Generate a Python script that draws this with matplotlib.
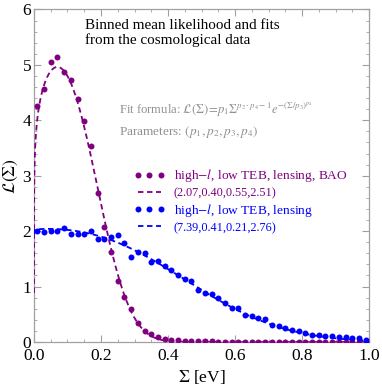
import numpy as np
import matplotlib
matplotlib.use('Agg')
import matplotlib.pyplot as plt
from matplotlib.ticker import MultipleLocator, FormatStrFormatter

plt.rcParams.update({'font.family': ['Liberation Serif', 'DejaVu Serif'],
                     'mathtext.fontset': 'stix'})

# binned mean likelihood (bin centres in eV)
sigma_bins = np.arange(0.01, 1.0, 0.02)
like_bao = [4.25, 4.56, 5.06, 5.15, 4.88, 4.72, 4.38, 3.98, 3.54, 2.69,
            2.08, 1.63, 1.10, 0.82, 0.59, 0.34, 0.19, 0.14, 0.09, 0.06,
            0.04, 0.03, 0.02, 0.01, 0.01, 0.01, 0.01, 0.0, 0.0, 0.0,
            0.0, 0.0, 0.0, 0.0, 0.0, 0.0, 0.0, 0.0, 0.0, 0.0,
            0.0, 0.0, 0.0, 0.0, 0.0, 0.0, 0.0, 0.0, 0.0, 0.0]
like_lens = [2.00, 1.99, 2.00, 2.01, 2.06, 1.94, 1.94, 1.95, 2.00, 1.85,
             1.86, 1.89, 1.93, 1.78, 1.54, 1.63, 1.60, 1.45, 1.47, 1.37,
             1.30, 1.21, 1.14, 1.10, 0.94, 0.89, 0.86, 0.79, 0.71, 0.62,
             0.62, 0.49, 0.47, 0.44, 0.41, 0.31, 0.28, 0.25, 0.21, 0.19,
             0.16, 0.13, 0.13, 0.10, 0.10, 0.09, 0.09, 0.07, 0.07, 0.04]

# fit parameters (p1, p2, p3, p4) as printed on the chart
params_bao_label = (2.07, 0.40, 0.55, 2.51)
params_lens_label = (7.39, 0.41, 0.21, 2.76)

PURPLE = '#800080'
BLUE = '#0000ff'


def fit(s, p1, p2, p3, p4):
    return p1 * s ** (p2 * p4 - 1) * np.exp(-(s / p3) ** p4)


s = np.concatenate([np.geomspace(1e-7, 0.01, 200), np.linspace(0.01, 1.0, 400)])

fig = plt.figure(figsize=(3.82, 3.88), dpi=100)
ax = fig.add_axes([0.089, 0.1186, 0.877, 0.857])

ax.plot(sigma_bins, like_bao, 'o', color=PURPLE, ms=4.3, mew=0, zorder=4,
        label=r'high$-l$, low TEB, lensing, BAO')
ax.plot(s, fit(s, *params_lens_label), '--', color=PURPLE, lw=1.3, dashes=(3, 2), zorder=3,
        label='(' + ','.join(f'{p:.2f}' for p in params_bao_label) + ')')
ax.plot(sigma_bins, like_lens, 'o', color=BLUE, ms=4.3, mew=0, zorder=4,
        label=r'high$-l$, low TEB, lensing')
ax.plot(s, fit(s, *params_bao_label), '--', color=BLUE, lw=1.3, dashes=(3, 2), zorder=3,
        label='(' + ','.join(f'{p:.2f}' for p in params_lens_label) + ')')

ax.set_xlim(0, 1.0)
ax.set_ylim(0, 6)
ax.xaxis.set_major_locator(MultipleLocator(0.2))
ax.xaxis.set_minor_locator(MultipleLocator(0.05))
ax.yaxis.set_major_locator(MultipleLocator(1))
ax.yaxis.set_minor_locator(MultipleLocator(0.2))
ax.xaxis.set_major_formatter(FormatStrFormatter('%.1f'))
ax.tick_params(which='both', direction='in', top=True, right=True,
               color='#a0a0a0', labelsize=12.5)
ax.tick_params(axis='x', pad=4)
ax.tick_params(axis='y', pad=2)
ax.tick_params(which='major', length=5, width=0.8)
ax.tick_params(which='minor', length=2.5, width=0.6)
for sp in ax.spines.values():
    sp.set_color('#a0a0a0')
    sp.set_linewidth(0.9)

ax.set_xlabel(r'$\Sigma$ [eV]', fontsize=12.5, labelpad=3)
ax.set_ylabel(r'$\mathcal{L}(\Sigma)$', fontsize=12.5, labelpad=2)

ax.text(0.152, 5.71, 'Binned mean likelihood and fits', fontsize=10.9, va='center', ha='left')
ax.text(0.152, 5.44, 'from the cosmological data', fontsize=10.9, va='center', ha='left')
ax.text(0.253, 4.18,
        r'Fit formula: $\mathcal{L}(\Sigma)\!=\!p_1\Sigma^{p_2\cdot p_4-1}e^{-(\Sigma/p_3)^{p_4}}$',
        fontsize=9.1, color='#909090', va='center', ha='left')
ax.text(0.253, 3.79, r'Parameters: $(p_1,p_2,p_3,p_4)$',
        fontsize=9.5, color='#909090', va='center', ha='left')

leg = ax.legend(loc='upper left', bbox_to_anchor=(0.2985, 0.525), frameon=False,
                numpoints=3, handlelength=2.3, handletextpad=0.7,
                labelspacing=0.2, borderpad=0, borderaxespad=0,
                fontsize=9.6, labelcolor='linecolor')
for i, t in enumerate(leg.get_texts()):
    if i % 2 == 1:
        t.set_fontsize(8.8)

fig.savefig('out.png', dpi=100)
plt.close(fig)
